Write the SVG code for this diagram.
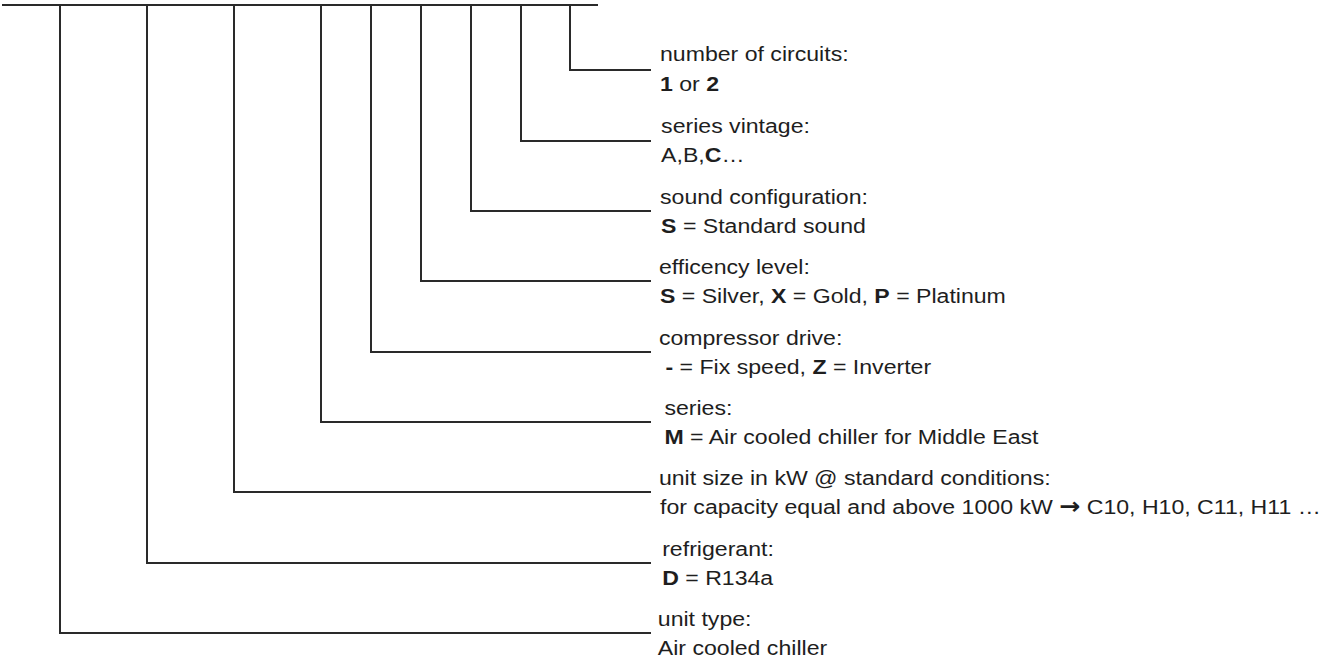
<svg xmlns="http://www.w3.org/2000/svg" width="1333" height="660" viewBox="0 0 1333 660">
  <style>
    .ln { fill: none; stroke: #2a2a2a; stroke-width: 2; stroke-linecap: square; stroke-linejoin: miter; }
    .t { font-family: "Liberation Sans", Arial, sans-serif; font-size: 21px; fill: #1e1e1e; }
    .b { font-weight: bold; }
    .ar { font-family: "DejaVu Sans", sans-serif; font-weight: bold; font-size: 23px; }
  </style>
  <rect width="1333" height="660" fill="#ffffff"/>
  <g id="connectors">
    <path class="ln" d="M3,5 H597"/>
    <path class="ln" d="M570,5 V70 H650"/>
    <path class="ln" d="M521,5 V141 H650"/>
    <path class="ln" d="M471,5 V211 H650"/>
    <path class="ln" d="M421,5 V281 H650"/>
    <path class="ln" d="M371,5 V352 H650"/>
    <path class="ln" d="M321,5 V422 H650"/>
    <path class="ln" d="M234,5 V492 H650"/>
    <path class="ln" d="M147,5 V563 H650"/>
    <path class="ln" d="M60,5 V633 H650"/>
  </g>
  <g id="circuits" transform="translate(-66,0) scale(1.1,1)">
    <text class="t" x="660" y="61">number of circuits:</text>
    <text class="t" x="660" y="91"><tspan class="b">1</tspan> or <tspan class="b">2</tspan></text>
  </g>
  <g id="vintage" transform="translate(-66,0) scale(1.1,1)">
    <text class="t" x="661" y="133">series vintage:</text>
    <text class="t" x="661" y="162">A,B,<tspan class="b">C</tspan>…</text>
  </g>
  <g id="sound" transform="translate(-66,0) scale(1.1,1)">
    <text class="t" x="660" y="204">sound configuration:</text>
    <text class="t" x="661" y="233"><tspan class="b">S</tspan> = Standard sound</text>
  </g>
  <g id="efficiency" transform="translate(-66,0) scale(1.1,1)">
    <text class="t" x="659" y="274">efficency level:</text>
    <text class="t" x="660" y="303"><tspan class="b">S</tspan> = Silver, <tspan class="b">X</tspan> = Gold, <tspan class="b">P</tspan> = Platinum</text>
  </g>
  <g id="compressor" transform="translate(-66,0) scale(1.1,1)">
    <text class="t" x="659" y="345">compressor drive:</text>
    <text class="t" x="665" y="374"><tspan class="b">-</tspan> = Fix speed, <tspan class="b">Z</tspan> = Inverter</text>
  </g>
  <g id="series" transform="translate(-66,0) scale(1.1,1)">
    <text class="t" x="664" y="415">series:</text>
    <text class="t" x="664" y="444"><tspan class="b">M</tspan> = Air cooled chiller for Middle East</text>
  </g>
  <g id="unitsize" transform="translate(-66,0) scale(1.1,1)">
    <text class="t" x="659" y="485">unit size in kW @ standard conditions:</text>
    <text class="t" x="660" y="514">for capacity equal and above 1000 kW <tspan class="ar">→</tspan> C10, H10, C11, H11 …</text>
  </g>
  <g id="refrigerant" transform="translate(-66,0) scale(1.1,1)">
    <text class="t" x="662" y="556">refrigerant:</text>
    <text class="t" x="662" y="585"><tspan class="b">D</tspan> = R134a</text>
  </g>
  <g id="unittype" transform="translate(-66,0) scale(1.1,1)">
    <text class="t" x="658" y="626">unit type:</text>
    <text class="t" x="658" y="655">Air cooled chiller</text>
  </g>
</svg>
